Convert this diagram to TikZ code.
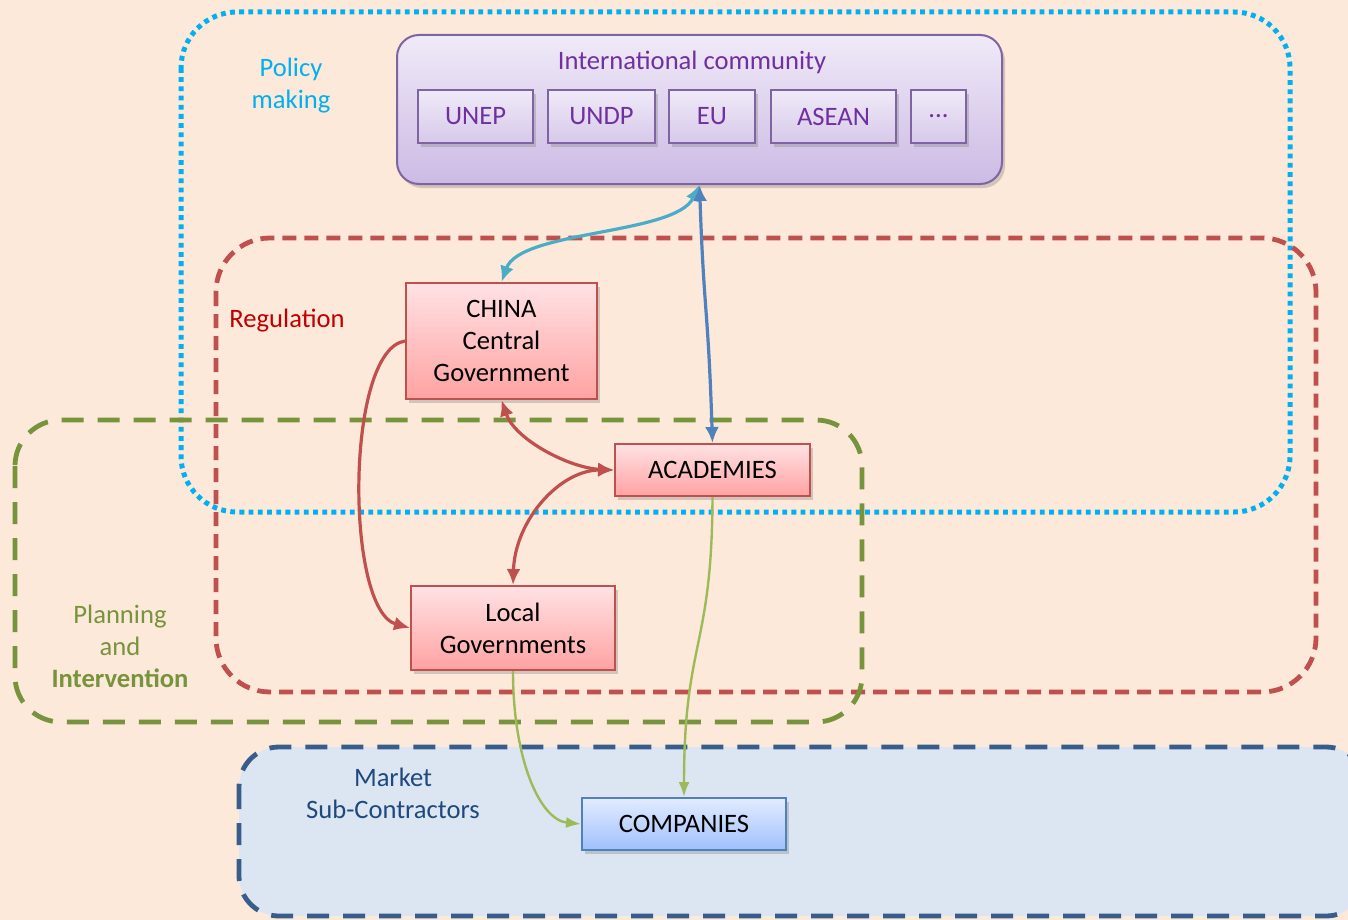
\documentclass[tikz,border=0pt]{standalone}
\usepackage{fontspec}
\setmainfont{Carlito}
\usetikzlibrary{arrows.meta,shadows}
\definecolor{peach}{RGB}{253,233,218}
\definecolor{policyblue}{RGB}{0,176,240}
\definecolor{regred}{RGB}{192,80,77}
\definecolor{regtext}{RGB}{192,0,0}
\definecolor{plangreen}{RGB}{119,147,60}
\definecolor{marketblue}{RGB}{56,93,138}
\definecolor{marketfill}{RGB}{220,230,242}
\definecolor{markettext}{RGB}{31,73,125}
\definecolor{intlborder}{RGB}{128,100,162}
\definecolor{intltext}{RGB}{112,48,160}
\definecolor{intltop}{RGB}{240,234,248}
\definecolor{intlbot}{RGB}{204,186,228}
\definecolor{pinktop}{RGB}{255,226,228}
\definecolor{pinkbot}{RGB}{255,162,162}
\definecolor{bluetop}{RGB}{226,236,255}
\definecolor{bluebot}{RGB}{160,192,252}
\definecolor{cyanline}{RGB}{75,172,198}
\definecolor{steelline}{RGB}{79,129,189}
\definecolor{greenline}{RGB}{155,187,89}

\begin{document}
\begin{tikzpicture}[x=0.5pt,y=-0.5pt]
\tikzstyle{every node}=[font=\fontsize{13.3}{16}\selectfont,align=center,inner sep=0pt];
\tikzstyle{shade box}=[drop shadow={opacity=0.35,shadow xshift=1.5pt,shadow yshift=-2pt}];
\tikzstyle{redbox}=[draw=regred,line width=1pt,top color=pinktop,bottom color=pinkbot,shade box];
\tikzstyle{bluebox}=[draw=steelline,line width=1pt,top color=bluetop,bottom color=bluebot,shade box];
\tikzstyle{orgbox}=[draw=intlborder,line width=1pt,top color=intltop,bottom color=intlbot!70!intltop,text=intltext,minimum height=26.5pt,shade box];
\tikzstyle{link}=[line width=1.6pt,{Latex[length=8pt,width=7pt]}-{Latex[length=8pt,width=7pt]}];
\tikzstyle{feed}=[line width=1.2pt,greenline,-{Latex[length=7.5pt,width=5.5pt]}];

\useasboundingbox (0,0) rectangle (1348,920);
\fill[peach] (0,0) rectangle (1348,920);

\draw[policyblue,line width=2.5pt,dash pattern=on 2.4pt off 2.2pt,rounded corners=28pt] (181,12) rectangle (1290,512);
\draw[regred,line width=2.4pt,dash pattern=on 7pt off 4pt,rounded corners=27pt] (216,238) rectangle (1316,692);
\draw[plangreen,line width=2.4pt,dash pattern=on 11pt off 7pt,rounded corners=23pt] (15,420) rectangle (862,722);
\draw[marketblue,fill=marketfill,line width=2.4pt,dash pattern=on 11pt off 7pt,rounded corners=20pt] (239,747) rectangle (1366,916);

\node[text=policyblue] (policy) at (291,86) {Policy\\making};
\node[text=regtext] (regulation) at (287,321) {Regulation};
\node[text=plangreen] (planning) at (120,646) {Planning\\and\\\textbf{Intervention}};
\node[text=markettext] (market) at (393,793) {Market\\Sub-Contractors};

\node (intl) [draw=intlborder,line width=1pt,rounded corners=11pt,top color=intltop,bottom color=intlbot,minimum width=302.5pt,minimum height=74.5pt,shade box] at (699.5,109.5) {};
\node[text=intltext] (intltitle) at (692,62) {International community};
\node (unep) [orgbox,minimum width=57.5pt] at (475.5,116.5) {UNEP};
\node (undp) [orgbox,minimum width=53.5pt] at (601.5,116.5) {UNDP};
\node (eu) [orgbox,minimum width=43pt] at (712,116.5) {EU};
\node (asean) [orgbox,minimum width=62.5pt] at (833.5,116.5) {ASEAN};
\node (more) [orgbox,minimum width=27.5pt] at (938.5,116.5) {...};

\node (china) [redbox,minimum width=95.5pt,minimum height=58pt] at (501.5,341) {CHINA\\Central\\Government};
\node (acad) [redbox,minimum width=97.5pt,minimum height=26pt] at (712.5,470) {ACADEMIES};
\node (local) [redbox,minimum width=102pt,minimum height=42pt] at (513,628) {Local\\Governments};
\node (comp) [bluebox,minimum width=102pt,minimum height=26pt] at (684,824) {COMPANIES};

\draw[link,cyanline] (intl.south) .. controls (675,235) and (520,230) .. (china.north);
\draw[link,steelline] (intl.south) .. controls (704,315) and (708,305) .. (acad.north);
\draw[regred,line width=1.6pt,-{Latex[length=8pt,width=7pt]}] (china.west) .. controls (345,350) and (345,610) .. (local.west);
\draw[link,regred] (china.south) .. controls (515,440) and (570,468) .. (acad.west);
\draw[link,regred] (acad.west) .. controls (560,470) and (515,520) .. (local.north);
\draw[feed] (local.south) .. controls (513,760) and (540,820) .. (comp.west);
\draw[feed] (acad.south) .. controls (712,650) and (684,640) .. (comp.north);
\end{tikzpicture}
\end{document}
